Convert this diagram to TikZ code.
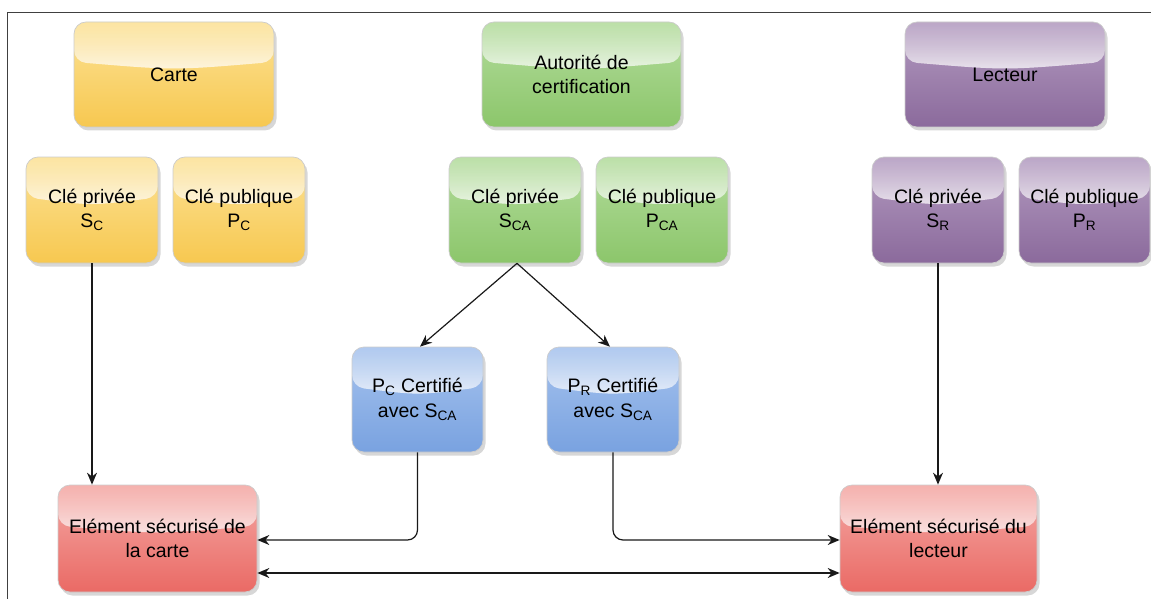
\documentclass[tikz,border=0pt]{standalone}
\usepackage{fontspec}
\setmainfont{Liberation Sans}
\usetikzlibrary{arrows.meta,shadows,fadings,calc}

\definecolor{yelTop}{HTML}{FCE296}
\definecolor{yelBot}{HTML}{F7C850}
\definecolor{grnTop}{HTML}{B3DC9C}
\definecolor{grnBot}{HTML}{8CC66B}
\definecolor{purTop}{HTML}{B39BC0}
\definecolor{purBot}{HTML}{8B6A9C}
\definecolor{bluTop}{HTML}{A6C3EE}
\definecolor{bluBot}{HTML}{79A2E0}
\definecolor{redTop}{HTML}{F4A8A4}
\definecolor{redBot}{HTML}{EA6A65}

\tikzset{
  % glossy highlight over the upper part of a box, with a slightly curved lower edge
  glass/.style={path picture={
      \coordinate (glw) at ($(path picture bounding box.north west)!0.38!(path picture bounding box.south west)$);
      \coordinate (gle) at ($(path picture bounding box.north east)!0.38!(path picture bounding box.south east)$);
      \coordinate (glc) at ($(path picture bounding box.north)!0.46!(path picture bounding box.south)$);
      \fill[white, fill opacity=0.75, path fading=north]
        (path picture bounding box.north west) -- (glw) .. controls (glc) .. (gle)
        -- (path picture bounding box.north east) -- cycle;
      \fill[white, fill opacity=0.12]
        (path picture bounding box.north west) -- (glw) .. controls (glc) .. (gle)
        -- (path picture bounding box.north east) -- cycle;
  }},
  gbox/.style={rectangle, rounded corners=12pt, draw=black!20, line width=0.7pt,
    inner sep=2pt, align=center, text=black,
    font=\fontsize{19.5}{24.5}\selectfont,
    drop shadow={shadow xshift=2.5pt, shadow yshift=-3.5pt, fill=black!45, opacity=0.35},
    glass},
  yellowbox/.style={gbox, top color=yelTop, bottom color=yelBot},
  greenbox/.style={gbox, top color=grnTop, bottom color=grnBot},
  purplebox/.style={gbox, top color=purTop, bottom color=purBot},
  bluebox/.style={gbox, top color=bluTop, bottom color=bluBot},
  redbox/.style={gbox, top color=redTop, bottom color=redBot},
  titlesize/.style={minimum width=200pt, minimum height=105pt},
  keysize/.style={minimum width=132pt, minimum height=106pt},
  elemsize/.style={minimum width=198pt, minimum height=107pt},
  conn/.style={draw=black!90, line width=1.2pt, -{Stealth[length=12pt,width=10pt]}},
  bothconn/.style={draw=black!90, line width=1.2pt,
    {Stealth[length=12pt,width=10pt]}-{Stealth[length=12pt,width=10pt]}},
  frameline/.style={draw=black!75, line width=1pt},
}

\begin{document}
\begin{tikzpicture}[x=1pt, y=-1pt]
  \useasboundingbox (0,0) rectangle (1151,599);

  % outer frame (top and left edges)
  \coordinate (fbl) at (7,599);
  \coordinate (ftl) at (7,13);
  \coordinate (ftr) at (1151,13);
  \draw[frameline] (fbl) -- (ftl) -- (ftr);

  % parties
  \node[yellowbox, titlesize] (carte) at (174,74.5) {Carte};
  \node[greenbox, titlesize, minimum width=199pt] (ca) at (581.5,74.5) {Autorité de\\certification};
  \node[purplebox, titlesize] (lecteur) at (1005,74.5) {Lecteur};

  % key pairs
  \node[yellowbox, keysize] (sc) at (92,210) {Clé privée\\S\textsubscript{C}};
  \node[yellowbox, keysize] (pc) at (239,210) {Clé publique\\P\textsubscript{C}};
  \node[greenbox, keysize] (sca) at (515,210) {Clé privée\\S\textsubscript{CA}};
  \node[greenbox, keysize] (pca) at (662,210) {Clé publique\\P\textsubscript{CA}};
  \node[purplebox, keysize] (sr) at (938,210) {Clé privée\\S\textsubscript{R}};
  \node[purplebox, keysize, minimum width=131pt] (pr) at (1084.5,210) {Clé publique\\P\textsubscript{R}};

  % certificates
  \node[bluebox, keysize, minimum height=105pt, minimum width=131pt] (pcc) at (417.5,399.5) {P\textsubscript{C} Certifié\\avec S\textsubscript{CA}};
  \node[bluebox, keysize, minimum height=105pt] (prc) at (613,399.5) {P\textsubscript{R} Certifié\\avec S\textsubscript{CA}};

  % secure elements
  \node[redbox, elemsize, minimum width=199pt] (sec) at (157.5,538.5) {Elément sécurisé de\\la carte};
  \node[redbox, elemsize, minimum width=197pt] (sel) at (938.5,538.5) {Elément sécurisé du\\lecteur};

  % connectors
  \draw[conn] (sc.south) -- (sc.south |- sec.north);
  \draw[conn] (sr.south) -- (sr.south |- sel.north);
  \draw[conn] ([xshift=2pt]sca.south) -- ([xshift=2.5pt]pcc.north);
  \draw[conn] ([xshift=2pt]sca.south) -- ([xshift=-3pt]prc.north);
  \draw[conn, rounded corners=10pt] (pcc.south) |- ([yshift=-1.5pt]sec.east);
  \draw[conn, rounded corners=10pt] (prc.south) |- ([yshift=-1.5pt]sel.west);
  \draw[bothconn] ([yshift=-34.5pt]sec.east) -- ([yshift=-34.5pt]sel.west);
\end{tikzpicture}
\end{document}
